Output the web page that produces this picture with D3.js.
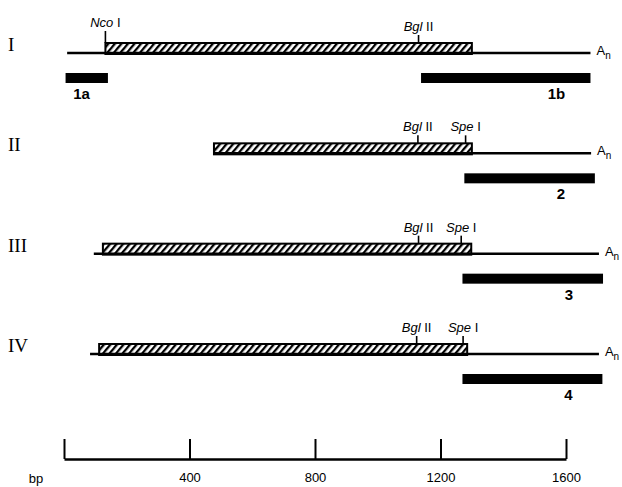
<!DOCTYPE html>
<html>
<head>
<meta charset="utf-8">
<script src="https://cdn.jsdelivr.net/npm/d3@7"></script>
<style>
  body { margin: 0; background: #fff; }
  svg { display: block; }
  text { font-family: "Liberation Sans", Arial, sans-serif; fill: #000; }
  .roman { font-family: "Liberation Serif", "Times New Roman", serif; font-size: 19px; }
  .site { font-size: 13px; }
  .probe { font-size: 15px; font-weight: bold; }
  .axis text { font-size: 13px; }
</style>
</head>
<body>
<svg id="map" width="622" height="487"></svg>
<script>
// transcripts (bp)
const rows = ["I", "II", "III", "IV"];
const txStart  = [10, 478, 95, 83];
const orfStart = [132, 478, 124, 112];
const orfEnd   = [1300, 1300, 1298, 1285];
const txEnd    = [1678, 1680, 1705, 1705];

// restriction sites (bp), null = not marked
const ncoI  = [132, null, null, null];
const bglII = [1130, 1128, 1130, 1124];
const speI  = [null, 1280, 1266, 1272];

// probes
const probeNames = ["1a", "1b", "2", "3", "4"];
const probeRow   = [0, 0, 1, 2, 3];
const probeStart = [5, 1138, 1276, 1270, 1270];
const probeEnd   = [140, 1678, 1692, 1718, 1716];

const axisTicks = [0, 400, 800, 1200, 1600];

const svg = d3.select("#map");
const x = d3.scaleLinear().domain([0, 1600]).range([64, 566]);
const rowY = d3.scalePoint().domain(rows).range([54, 355]);  // transcript line
const boxH = 11;

// hatch pattern
const defs = svg.append("defs");
defs.append("pattern")
    .attr("id", "hatch")
    .attr("patternUnits", "userSpaceOnUse")
    .attr("width", 5).attr("height", 5)
    .attr("patternTransform", "rotate(40)")
  .append("rect")
    .attr("x", 0).attr("y", 0)
    .attr("width", 2.3).attr("height", 5)
    .attr("fill", "#000");

const g = svg.append("g");

rows.forEach((r, i) => {
  const y = rowY(r);
  const row = g.append("g");

  row.append("text").attr("class", "roman")
    .attr("x", 8).attr("y", y - 3).text(r);

  // transcript line
  row.append("line")
    .attr("x1", x(txStart[i])).attr("x2", x(txEnd[i]))
    .attr("y1", y - 1).attr("y2", y - 1)
    .attr("stroke", "#000").attr("stroke-width", 2.5);

  // ORF box
  row.append("rect")
    .attr("x", x(orfStart[i])).attr("y", y - boxH)
    .attr("width", x(orfEnd[i]) - x(orfStart[i])).attr("height", boxH)
    .attr("fill", "url(#hatch)")
    .attr("stroke", "#000").attr("stroke-width", 2);

  // poly A
  const an = row.append("text").attr("class", "site")
    .attr("x", x(txEnd[i]) + 6).attr("y", y + 1);
  an.append("tspan").text("A");
  an.append("tspan").attr("dy", 4).attr("font-size", 10).text("n");

  // sites
  const sites = [];
  if (ncoI[i] != null) sites.push({pos: ncoI[i], it: "Nco", rm: " I", h: 23});
  if (bglII[i] != null) sites.push({pos: bglII[i], it: "Bgl", rm: " II", h: 19});
  if (speI[i] != null) sites.push({pos: speI[i], it: "Spe", rm: " I", h: 19});
  sites.forEach(s => {
    row.append("line")
      .attr("x1", x(s.pos)).attr("x2", x(s.pos))
      .attr("y1", y - boxH).attr("y2", y - s.h)
      .attr("stroke", "#000").attr("stroke-width", 1.6);
    const t = row.append("text").attr("class", "site")
      .attr("x", x(s.pos)).attr("y", y - s.h - 4)
      .attr("text-anchor", "middle");
    t.append("tspan").attr("font-style", "italic").text(s.it);
    t.append("tspan").text(s.rm);
  });
});

// probes
probeNames.forEach((p, i) => {
  const y = rowY(rows[probeRow[i]]);
  g.append("rect")
    .attr("x", x(probeStart[i])).attr("y", y + 19)
    .attr("width", x(probeEnd[i]) - x(probeStart[i])).attr("height", 10)
    .attr("fill", "#000");
  const lx = i === 0 ? x(probeStart[i]) + 16 : x(probeEnd[i]) - 34;
  g.append("text").attr("class", "probe")
    .attr("x", lx).attr("y", y + 45)
    .attr("text-anchor", "middle").text(p);
});

// scale bar
const axis = svg.append("g").attr("class", "axis")
  .attr("transform", "translate(0,459)")
  .call(d3.axisBottom(x).tickValues(axisTicks)
    .tickSizeInner(-20).tickSizeOuter(0).tickPadding(14)
    .tickFormat(d => d === 0 ? "" : d));
axis.select(".domain").attr("stroke-width", 2.5);
axis.selectAll(".tick line").attr("stroke-width", 2);
axis.selectAll("text").attr("font-family", null).attr("font-size", null);

svg.append("text").attr("class", "axis")
  .attr("x", 36).attr("y", 483).attr("text-anchor", "middle")
  .attr("font-size", 13).text("bp");
</script>
</body>
</html>
